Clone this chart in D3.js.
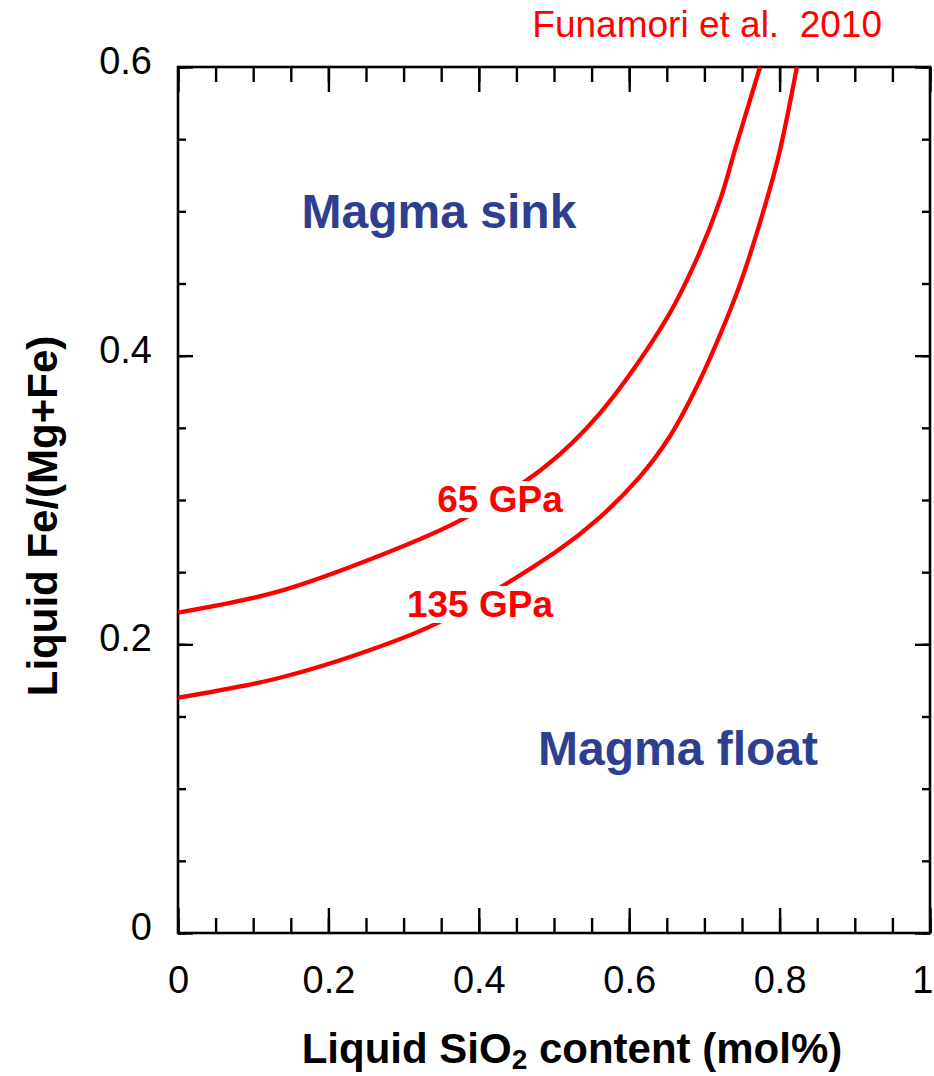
<!DOCTYPE html>
<html>
<head>
<meta charset="utf-8">
<title>Magma sink / float</title>
<script src="https://cdn.jsdelivr.net/npm/d3@7"></script>
<style>
  body { margin: 0; background: #fff; }
  svg { display: block; font-family: "Liberation Sans", Arial, sans-serif; }
  .tick line { stroke: #000; stroke-width: 2.4; }
  .domain { display: none; }
  .tick text { font-size: 38px; fill: #000; }
</style>
</head>
<body>
<svg width="934" height="1076"></svg>
<script>
// curve traces for the two pressures
var sio2_65  = [0, 0.133, 0.266, 0.376, 0.488, 0.561, 0.649, 0.689, 0.721, 0.742, 0.774]
var fe_65    = [0.222, 0.2365, 0.261, 0.286, 0.323, 0.360, 0.425, 0.466, 0.508, 0.545, 0.600]

var sio2_135 = [0, 0.133, 0.266, 0.346, 0.505, 0.561, 0.614, 0.654, 0.6875, 0.718, 0.747, 0.777, 0.799, 0.823]
var fe_135   = [0.163, 0.1765, 0.198, 0.215, 0.265, 0.288, 0.316, 0.344, 0.376, 0.411, 0.449, 0.4975, 0.539, 0.600]

var xMajor = [0, 0.2, 0.4, 0.6, 0.8, 1]
var yMajor = [0, 0.2, 0.4, 0.6]
var xMinor = d3.range(0, 1.0001, 0.05)
var yMinor = d3.range(0, 0.6001, 0.05)

var curves = [
  { name: "65 GPa",  x: sio2_65,  y: fe_65,  lx: 500, ly: 512 },
  { name: "135 GPa", x: sio2_135, y: fe_135, lx: 480, ly: 617 }
]

// plot box (avoid window.top etc.)
var pL = 178, pR = 930, pT = 67, pB = 933

var svg = d3.select("svg")

var x = d3.scaleLinear().domain([0, 1]).range([pL, pR])
var y = d3.scaleLinear().domain([0, 0.6]).range([pB, pT])

var fmt = function (d) { return d === 0 ? "0" : d === 1 ? "1" : d3.format(".1f")(d) }

// x ticks, bottom and top (pointing in)
svg.append("g").attr("transform", "translate(0," + pB + ")")
  .call(d3.axisBottom(x).tickValues(xMinor).tickSize(-15).tickFormat(""))
var xb = svg.append("g").attr("transform", "translate(0," + pB + ")")
  .call(d3.axisBottom(x).tickValues(xMajor).tickSize(-25).tickPadding(33).tickFormat(fmt))
xb.selectAll(".tick text").attr("dx", function (d) { return d === 1 ? "-0.2em" : 0 })
svg.append("g").attr("transform", "translate(0," + pT + ")")
  .call(d3.axisTop(x).tickValues(xMinor).tickSize(-15).tickFormat(""))
svg.append("g").attr("transform", "translate(0," + pT + ")")
  .call(d3.axisTop(x).tickValues(xMajor).tickSize(-25).tickFormat(""))

// y ticks, left and right
svg.append("g").attr("transform", "translate(" + pL + ",0)")
  .call(d3.axisLeft(y).tickValues(yMinor).tickSize(-8).tickFormat(""))
var yl = svg.append("g").attr("transform", "translate(" + pL + ",0)")
  .call(d3.axisLeft(y).tickValues(yMajor).tickSize(-15).tickPadding(26).tickFormat(fmt))
yl.selectAll(".tick text").attr("dy", "0.17em")
svg.append("g").attr("transform", "translate(" + pR + ",0)")
  .call(d3.axisRight(y).tickValues(yMinor).tickSize(-8).tickFormat(""))
svg.append("g").attr("transform", "translate(" + pR + ",0)")
  .call(d3.axisRight(y).tickValues(yMajor).tickSize(-15).tickFormat(""))

// frame
svg.append("rect")
  .attr("x", pL).attr("y", pT)
  .attr("width", pR - pL).attr("height", pB - pT)
  .attr("fill", "none").attr("stroke", "#000").attr("stroke-width", 2.6)

svg.append("clipPath").attr("id", "plot")
  .append("rect").attr("x", pL).attr("y", pT - 2)
  .attr("width", pR - pL).attr("height", pB - pT + 2)

var line = d3.line()
  .x(function (d) { return x(d[0]) })
  .y(function (d) { return y(d[1]) })
  .curve(d3.curveCatmullRom.alpha(0.5))

curves.forEach(function (c) {
  svg.append("path")
    .datum(d3.zip(c.x, c.y))
    .attr("clip-path", "url(#plot)")
    .attr("d", line)
    .attr("fill", "none")
    .attr("stroke", "#ff0000")
    .attr("stroke-width", 4.3)
})

// curve labels on a white patch
curves.forEach(function (c) {
  var g = svg.append("g")
  var t = g.append("text")
    .attr("x", c.lx).attr("y", c.ly)
    .attr("text-anchor", "middle")
    .attr("font-size", 37).attr("font-weight", "bold")
    .attr("fill", "#ff0000")
    .text(c.name)
  var b = t.node().getBBox()
  g.insert("rect", "text")
    .attr("x", b.x - 2).attr("y", b.y + 2)
    .attr("width", b.width + 4).attr("height", b.height - 4)
    .attr("fill", "#fff")
})

// region labels
svg.append("text").attr("x", 439).attr("y", 228)
  .attr("text-anchor", "middle").attr("font-size", 48).attr("font-weight", "bold")
  .attr("fill", "#2f3f8f").text("Magma sink")
svg.append("text").attr("x", 678).attr("y", 765)
  .attr("text-anchor", "middle").attr("font-size", 48).attr("font-weight", "bold")
  .attr("fill", "#2f3f8f").text("Magma float")

// source note
svg.append("text").attr("x", 882).attr("y", 37)
  .attr("text-anchor", "end").attr("font-size", 37)
  .style("white-space", "pre")
  .attr("fill", "#ff0000").text("Funamori et al.  2010")

// axis titles
var xt = svg.append("text").attr("x", 572).attr("y", 1063)
  .attr("text-anchor", "middle").attr("font-size", 42).attr("font-weight", "bold")
xt.append("tspan").text("Liquid SiO")
xt.append("tspan").attr("font-size", 28).attr("dy", 6).text("2")
xt.append("tspan").attr("dy", -6).text(" content (mol%)")

svg.append("text")
  .attr("transform", "translate(57," + 516 + ") rotate(-90)")
  .attr("text-anchor", "middle").attr("font-size", 42).attr("font-weight", "bold")
  .text("Liquid Fe/(Mg+Fe)")
</script>
</body>
</html>
